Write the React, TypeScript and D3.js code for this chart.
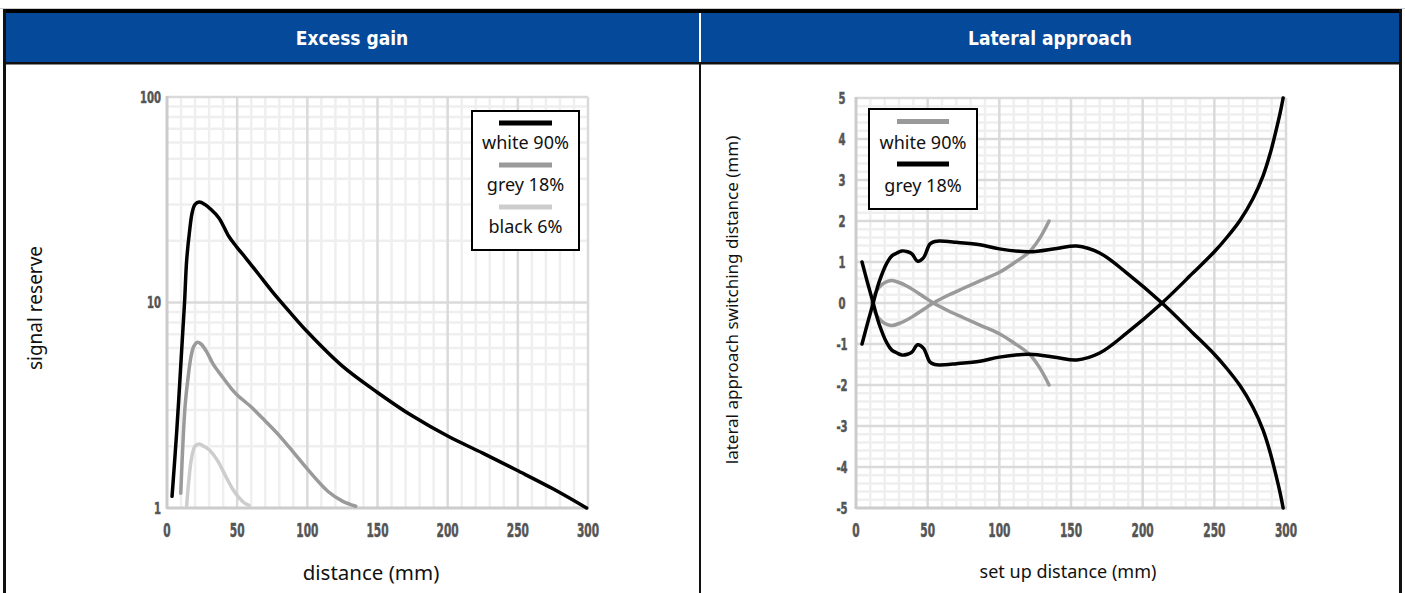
import React from 'react';
import * as d3 from 'd3';

type Pt = [number, number];

// ---------- Data: Excess gain (signal reserve vs distance) ----------
const gainWhite90: Pt[] = [
  [3.6, 1.14], [7, 2.4], [10, 5.2], [12.5, 10], [14, 16], [16, 22], [18, 27.5], [20, 30],
  [23, 30.8], [27, 30], [31, 28.5], [37, 25.8], [44, 21], [50, 18.5], [56, 16.5], [65, 13.8],
  [75, 11.3], [88, 8.9], [100, 7.2], [125, 4.9], [150, 3.65], [175, 2.8],
  [201, 2.22], [225, 1.85], [249, 1.53], [275, 1.24], [299, 1.0],
];
const gainGrey18: Pt[] = [
  [9.8, 1.18], [11.4, 2.1], [13, 3.2], [15, 4.3], [17, 5.4], [19, 6.1], [21.5, 6.4], [24, 6.3],
  [28, 5.8], [33, 5.0], [40, 4.3], [46, 3.8], [50, 3.55], [60, 3.1], [70, 2.65], [80, 2.25],
  [90, 1.87], [101, 1.52], [115, 1.2], [125, 1.08], [134.5, 1.02],
];
const gainBlack6: Pt[] = [
  [14, 1.02], [15.5, 1.35], [17.5, 1.75], [20, 2.0], [23, 2.05], [26, 2.0], [30, 1.92],
  [36, 1.7], [42, 1.42], [47, 1.23], [51, 1.13], [55, 1.06], [58.5, 1.03],
];

// ---------- Data: Lateral approach ----------
const latWhiteA: Pt[] = [
  [11, 0], [14, 0.28], [18, 0.45], [22, 0.53], [25, 0.55], [30, 0.5], [35, 0.42], [40, 0.32],
  [47, 0.16], [54, 0], [65, -0.2], [75, -0.36], [86.5, -0.54], [100, -0.75], [110, -0.97],
  [121, -1.25], [128, -1.57], [134.7, -2.0],
];
const latWhiteB: Pt[] = [
  [11, 0], [14, -0.28], [18, -0.45], [22, -0.53], [25, -0.55], [30, -0.5], [35, -0.42], [40, -0.32],
  [47, -0.16], [54, 0], [65, 0.2], [75, 0.36], [86.5, 0.54], [100, 0.75], [110, 0.97],
  [121, 1.25], [128, 1.57], [134.7, 2.0],
];
const latGreyA: Pt[] = [
  [4.2, 1.0], [8, 0.5], [12, 0], [16, -0.5], [21.6, -0.98], [25, -1.15], [28.6, -1.22], [32, -1.27],
  [36, -1.25], [39, -1.2], [43, -1.02], [47, -1.1], [51.6, -1.44], [55, -1.5], [58.6, -1.51],
  [70, -1.48], [86.5, -1.42], [100, -1.32], [121, -1.25], [140, -1.33], [154, -1.39],
  [170, -1.22], [189, -0.73], [213.5, 0], [235, 0.73], [250, 1.25], [259, 1.61], [268, 2.02],
  [277, 2.55], [284, 3.1], [289, 3.65], [293, 4.2], [296, 4.65], [298, 5.0],
];
const latGreyB: Pt[] = [
  [4.2, -1.0], [8, -0.5], [12, 0], [16, 0.5], [21.6, 0.98], [25, 1.15], [28.6, 1.22], [32, 1.27],
  [36, 1.25], [39, 1.2], [43, 1.02], [47, 1.1], [51.6, 1.44], [55, 1.5], [58.6, 1.51],
  [70, 1.48], [86.5, 1.42], [100, 1.32], [121, 1.25], [140, 1.33], [154, 1.39],
  [170, 1.22], [189, 0.73], [213.5, 0], [235, -0.73], [250, -1.25], [259, -1.61], [268, -2.02],
  [277, -2.55], [284, -3.1], [289, -3.65], [293, -4.2], [296, -4.65], [298, -5.0],
];

// ---------- Ticks & labels ----------
const xTicks = [0, 50, 100, 150, 200, 250, 300];
const gainYTicks = [1, 10, 100];
const latYTicks = [5, 4, 3, 2, 1, 0, -1, -2, -3, -4, -5];
const gainLegend = ['white 90%', 'grey 18%', 'black 6%'];
const latLegend = ['white 90%', 'grey 18%'];

const BLUE = '#05499a';
const C_BLACK = '#000000';
const C_GREY = '#9a9a9a';
const C_LIGHT = '#cdcdcd';
const MINOR = '#efefef';
const MAJOR = '#dadada';
const AXIS = '#cccccc';
const TICK_FONT = "'DejaVu Sans Condensed', 'DejaVu Sans', sans-serif";
const TITLE_FONT = "'DejaVu Sans Condensed', 'DejaVu Sans', sans-serif";
const LABEL_FONT = "'Noto Sans', 'DejaVu Sans', sans-serif";

function Tick({ x, y, size, sx, anchor, children }: { x: number; y: number; size: number; sx: number; anchor: string; children: React.ReactNode }) {
  return (
    <text transform={`translate(${x},${y}) scale(${sx},1)`} textAnchor={anchor} fill="#555" stroke="#555" strokeWidth={0.5} fontFamily={TICK_FONT} fontWeight="bold" fontSize={size}>
      {children}
    </text>
  );
}

export default function App() {
  const gx = d3.scaleLinear().domain([0, 300]).range([167, 588]);
  const gy = d3.scaleLog().domain([1, 100]).range([508, 97]);
  const lx = d3.scaleLinear().domain([0, 300]).range([856, 1286]);
  const ly = d3.scaleLinear().domain([-5, 5]).range([508, 98]);

  const gLine = d3.line<Pt>().x(d => gx(d[0])).y(d => gy(d[1])).curve(d3.curveCatmullRom.alpha(0.5));
  const lLine = d3.line<Pt>().x(d => lx(d[0])).y(d => ly(d[1])).curve(d3.curveCatmullRom.alpha(0.5));

  const xMinor = d3.range(10, 300, 10).filter(v => v % 50 !== 0);
  const xMajor = d3.range(50, 301, 50);
  const gMinorY: number[] = [];
  [1, 10].forEach(k => d3.range(2, 10).forEach(m => gMinorY.push(k * m)));
  const lMinorY = d3.range(-50, 51, 2).filter(v => v % 10 !== 0).map(v => v / 10);
  const lMajorY = d3.range(-4, 6, 1);

  const SW = 2.5;
  const curveProps = { fill: 'none', strokeWidth: 3.5, strokeLinecap: 'round' as const, strokeLinejoin: 'round' as const };

  return (
    <svg width={1405} height={593} style={{ position: 'absolute', left: 0, top: 0, background: '#fff' }}>
      {/* Frame */}
      <line x1={0} x2={1405} y1={8.5} y2={8.5} stroke="#cccccc" strokeWidth={1} />
      <rect x={3} y={9} width={1399} height={4} fill="#000" />
      <rect x={3} y={13} width={1399} height={49} fill={BLUE} />
      <rect x={3} y={62} width={1399} height={2.5} fill="#111" />
      <rect x={3} y={9} width={3} height={584} fill="#111" />
      <rect x={1399} y={9} width={3} height={584} fill="#111" />
      <rect x={699} y={13} width={2} height={49} fill="#fff" />
      <rect x={699} y={64} width={2} height={529} fill="#111" />
      <text x={352} y={45} textAnchor="middle" fill="#fff" fontFamily={TITLE_FONT} fontWeight="bold" fontSize={19}>Excess gain</text>
      <text x={1050} y={45} textAnchor="middle" fill="#fff" fontFamily={TITLE_FONT} fontWeight="bold" fontSize={19}>Lateral approach</text>

      {/* ===== Left chart grid ===== */}
      <g>
        {xMinor.map(v => (
          <line key={'gxm' + v} x1={gx(v)} x2={gx(v)} y1={gy(100)} y2={gy(1)} stroke={MINOR} strokeWidth={SW} />
        ))}
        {gMinorY.map(v => (
          <line key={'gym' + v} x1={gx(0)} x2={gx(300)} y1={gy(v)} y2={gy(v)} stroke={MINOR} strokeWidth={SW} />
        ))}
        {[10, 100].map(v => (
          <line key={'gyM' + v} x1={gx(0)} x2={gx(300)} y1={gy(v)} y2={gy(v)} stroke={MAJOR} strokeWidth={SW} />
        ))}
        {xMajor.map(v => (
          <line key={'gxM' + v} x1={gx(v)} x2={gx(v)} y1={gy(100)} y2={gy(1)} stroke={MAJOR} strokeWidth={SW} />
        ))}
        <line x1={gx(0)} x2={gx(0)} y1={gy(100) - 1} y2={gy(1) + 1} stroke={AXIS} strokeWidth={3} />
        <line x1={gx(0)} x2={gx(300) + 1} y1={gy(1)} y2={gy(1)} stroke={AXIS} strokeWidth={3} />
      </g>
      {gainYTicks.map(v => (
        <Tick key={'gyt' + v} x={161} y={gy(v) + 5.5} size={16.5} sx={0.68} anchor="end">{v}</Tick>
      ))}
      {xTicks.map(v => (
        <Tick key={'gxt' + v} x={gx(v)} y={536.5} size={19} sx={0.62} anchor="middle">{v}</Tick>
      ))}
      <path d={gLine(gainBlack6) || ''} stroke={C_LIGHT} {...curveProps} />
      <path d={gLine(gainGrey18) || ''} stroke={C_GREY} {...curveProps} />
      <path d={gLine(gainWhite90) || ''} stroke={C_BLACK} {...curveProps} />
      <rect x={472} y={111} width={107} height={139} fill="#fff" stroke="#000" strokeWidth={2} />
      {gainLegend.map((t, i) => (
        <g key={'gl' + i}>
          <line x1={499} x2={552} y1={123 + i * 42} y2={123 + i * 42} stroke={[C_BLACK, C_GREY, C_LIGHT][i]} strokeWidth={5} />
          <text x={525.5} y={149 + i * 42} textAnchor="middle" fill="#111" fontFamily={LABEL_FONT} fontSize={18}>{t}</text>
        </g>
      ))}
      <text transform="translate(42,308) rotate(-90)" textAnchor="middle" fill="#111" fontFamily={LABEL_FONT} fontSize={19}>signal reserve</text>
      <text x={371} y={580} textAnchor="middle" fill="#111" fontFamily={LABEL_FONT} fontSize={20.5}>distance (mm)</text>

      {/* ===== Right chart grid ===== */}
      <g>
        {xMinor.map(v => (
          <line key={'lxm' + v} x1={lx(v)} x2={lx(v)} y1={ly(5)} y2={ly(-5)} stroke={MINOR} strokeWidth={SW} />
        ))}
        {lMinorY.map(v => (
          <line key={'lym' + v} x1={lx(0)} x2={lx(300)} y1={ly(v)} y2={ly(v)} stroke={MINOR} strokeWidth={SW} />
        ))}
        {lMajorY.map(v => (
          <line key={'lyM' + v} x1={lx(0)} x2={lx(300)} y1={ly(v)} y2={ly(v)} stroke={MAJOR} strokeWidth={SW} />
        ))}
        {xMajor.map(v => (
          <line key={'lxM' + v} x1={lx(v)} x2={lx(v)} y1={ly(5)} y2={ly(-5)} stroke={MAJOR} strokeWidth={SW} />
        ))}
        <line x1={lx(0)} x2={lx(0)} y1={ly(5) - 1} y2={ly(-5) + 1} stroke={AXIS} strokeWidth={3} />
        <line x1={lx(0)} x2={lx(300) + 1} y1={ly(-5)} y2={ly(-5)} stroke={AXIS} strokeWidth={3} />
      </g>
      {latYTicks.map(v => (
        <Tick key={'lyt' + v} x={842} y={ly(v) + 5.5} size={16.5} sx={0.68} anchor="middle">{v}</Tick>
      ))}
      {xTicks.map(v => (
        <Tick key={'lxt' + v} x={lx(v)} y={536.5} size={19} sx={0.62} anchor="middle">{v}</Tick>
      ))}
      <path d={lLine(latWhiteA) || ''} stroke={C_GREY} {...curveProps} />
      <path d={lLine(latWhiteB) || ''} stroke={C_GREY} {...curveProps} />
      <path d={lLine(latGreyA) || ''} stroke={C_BLACK} {...curveProps} />
      <path d={lLine(latGreyB) || ''} stroke={C_BLACK} {...curveProps} />
      <rect x={869} y={109} width={108} height={100} fill="#fff" stroke="#000" strokeWidth={2} />
      {latLegend.map((t, i) => (
        <g key={'ll' + i}>
          <line x1={897} x2={949} y1={121.5 + i * 42.5} y2={121.5 + i * 42.5} stroke={[C_GREY, C_BLACK][i]} strokeWidth={5} />
          <text x={923} y={149 + i * 42.5} textAnchor="middle" fill="#111" fontFamily={LABEL_FONT} fontSize={18}>{t}</text>
        </g>
      ))}
      <text transform="translate(738,300) rotate(-90)" textAnchor="middle" fill="#111" fontFamily={LABEL_FONT} fontSize={17}>lateral approach switching distance (mm)</text>
      <text x={1068} y={578} textAnchor="middle" fill="#111" fontFamily={LABEL_FONT} fontSize={18}>set up distance (mm)</text>
    </svg>
  );
}
